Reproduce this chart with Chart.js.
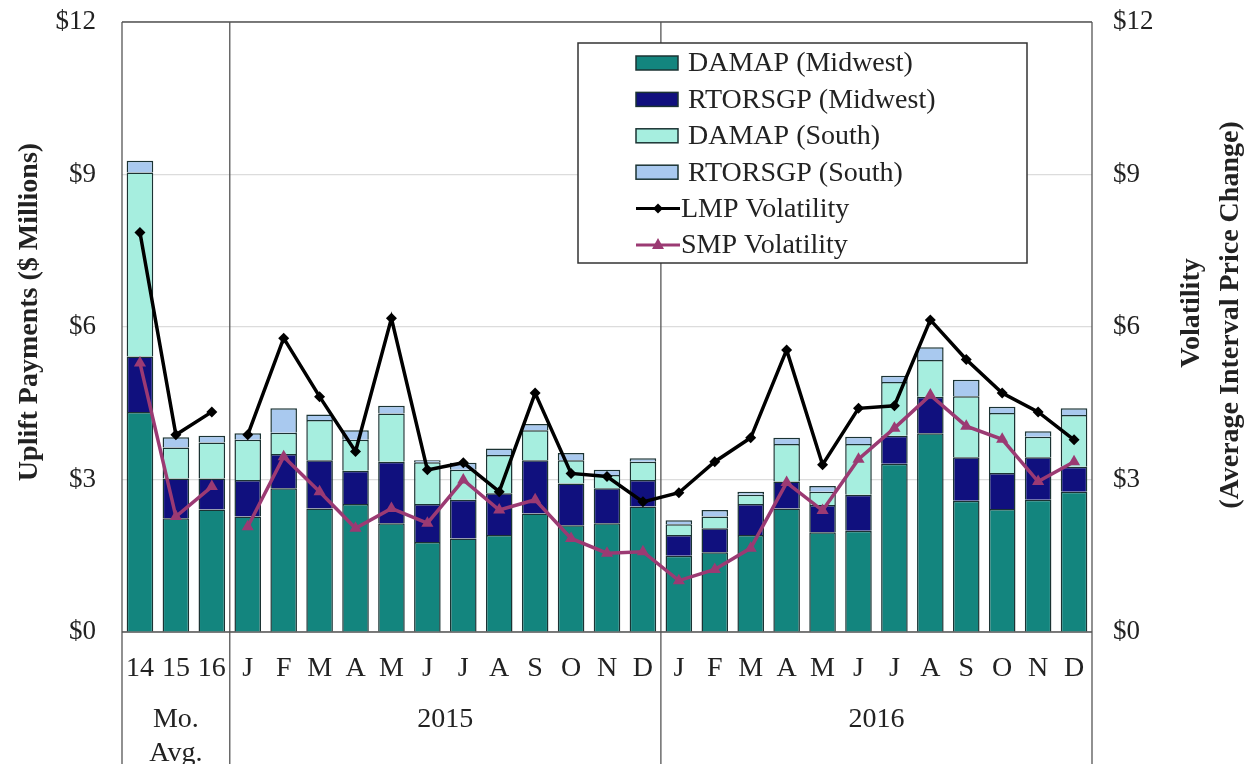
<!DOCTYPE html>
<html>
<head>
<meta charset="utf-8">
<script src="https://cdn.jsdelivr.net/npm/chart.js@4.4.1/dist/chart.umd.min.js"></script>
<style>
  html, body { margin: 0; padding: 0; background: #fff; }
  canvas { display: block; }
</style>
</head>
<body>
<canvas id="myChart" width="1245" height="764"></canvas>
<script>
// categorias: media mensal 2014-16, depois meses de 2015 e 2016
const categories = ['14','15','16','J','F','M','A','M','J','J','A','S','O','N','D','J','F','M','A','M','J','J','A','S','O','N','D']
const damapMidwest = [4.33,2.24,2.41,2.27,2.83,2.43,2.52,2.14,1.77,1.84,1.91,2.33,2.10,2.14,2.47,1.50,1.57,1.91,2.43,1.96,1.99,3.31,3.91,2.58,2.42,2.60,2.76]
const rtorMidwest = [1.09,0.78,0.61,0.72,0.67,0.95,0.65,1.21,0.75,0.76,0.82,1.05,0.82,0.69,0.52,0.41,0.47,0.61,0.53,0.54,0.71,0.55,0.72,0.86,0.71,0.84,0.49]
const damapSouth = [3.62,0.61,0.71,0.79,0.42,0.79,0.61,0.95,0.82,0.59,0.75,0.59,0.46,0.26,0.36,0.21,0.23,0.18,0.74,0.26,1.00,1.06,0.72,1.20,1.18,0.40,1.02]
const rtorSouth = [0.23,0.20,0.13,0.13,0.48,0.11,0.19,0.15,0.04,0.14,0.13,0.12,0.14,0.10,0.07,0.08,0.13,0.06,0.12,0.11,0.14,0.12,0.25,0.32,0.12,0.11,0.13]
const lmpVol = [7.86,3.88,4.33,3.88,5.78,4.63,3.55,6.17,3.19,3.33,2.76,4.70,3.12,3.06,2.56,2.74,3.35,3.82,5.55,3.29,4.40,4.45,6.14,5.36,4.70,4.33,3.78]
const smpVol = [5.29,2.27,2.86,2.07,3.45,2.76,2.04,2.43,2.14,2.99,2.40,2.60,1.84,1.55,1.58,1.01,1.23,1.65,2.94,2.39,3.40,4.01,4.66,4.05,3.79,2.96,3.35]
const yTicks = [0,3,6,9,12]
const grupos = [['Mo.', 'Avg.'], ['2015'], ['2016']]

const serif = '"Liberation Serif", "Times New Roman", serif'
const corBorda = '#1b3333'

// quebra a linha entre a media de 16 e jan/2015
const semLigacao = c => c.p0DataIndex === 2 ? 'rgba(0,0,0,0)' : undefined

const barra = (label, data, cor) => ({
  type: 'bar', label: label, data: data, backgroundColor: cor,
  borderColor: corBorda, borderWidth: 1.5, stack: 'u', order: 2,
  barPercentage: 0.74, categoryPercentage: 1
})

const extras = {
  id: 'extras',
  beforeDatasetsDraw(chart) {
    const c = chart.ctx, a = chart.chartArea
    c.save()
    // separadores verticais ate o fim da imagem
    const x = chart.scales.x
    const meio = i => (x.getPixelForValue(i) + x.getPixelForValue(i + 1)) / 2
    c.strokeStyle = '#555'
    c.lineWidth = 1.3
    ;[a.left, meio(2), meio(14), a.right].forEach(px => {
      c.beginPath(); c.moveTo(px, a.top); c.lineTo(px, chart.height); c.stroke()
    })
    c.beginPath(); c.moveTo(a.left, a.top); c.lineTo(a.right, a.top); c.stroke()
    c.beginPath(); c.moveTo(a.left, a.bottom); c.lineTo(a.right, a.bottom); c.stroke()
    c.restore()
  },
  afterDraw(chart) {
    const c = chart.ctx, a = chart.chartArea
    const x = chart.scales.x
    const meio = i => (x.getPixelForValue(i) + x.getPixelForValue(i + 1)) / 2
    c.save()
    // rotulos de grupo
    c.fillStyle = '#222'
    c.font = '28px ' + serif
    c.textAlign = 'center'
    c.textBaseline = 'middle'
    const centros = [(a.left + meio(2)) / 2, (meio(2) + meio(14)) / 2, (meio(14) + a.right) / 2]
    grupos.forEach((g, i) => g.forEach((t, j) => c.fillText(t, centros[i], 720 + j * 34)))

    // titulos dos eixos
    c.font = 'bold 28px ' + serif
    c.save(); c.translate(30, 312); c.rotate(-Math.PI / 2)
    c.fillText('Uplift Payments ($ Millions)', 0, 0); c.restore()
    c.save(); c.translate(1192, 313); c.rotate(-Math.PI / 2)
    c.fillText('Volatility', 0, 0); c.restore()
    c.save(); c.translate(1231, 315); c.rotate(-Math.PI / 2)
    c.fillText('(Average Interval Price Change)', 0, 0); c.restore()

    // legenda
    c.fillStyle = '#fff'
    c.fillRect(578, 43, 449, 220)
    c.strokeStyle = '#333'
    c.lineWidth = 1.5
    c.strokeRect(578, 43, 449, 220)
    c.font = '28px ' + serif
    c.textAlign = 'left'
    const ds = chart.data.datasets
    const ordem = [2, 3, 4, 5, 0, 1]
    ordem.forEach((k, i) => {
      const d = ds[k], y = 63 + i * 36.4
      c.fillStyle = '#222'
      if (d.type === 'bar') {
        c.fillStyle = d.backgroundColor
        c.fillRect(636, y - 7, 42, 14)
        c.strokeStyle = corBorda; c.lineWidth = 1.5
        c.strokeRect(636, y - 7, 42, 14)
        c.fillStyle = '#222'
        c.fillText(d.label, 688, y + 1)
      } else {
        c.strokeStyle = d.borderColor; c.lineWidth = 3
        c.beginPath(); c.moveTo(636, y); c.lineTo(680, y); c.stroke()
        c.fillStyle = d.borderColor
        c.beginPath()
        if (d.pointStyle === 'rectRot') {
          c.moveTo(658, y - 5); c.lineTo(663, y); c.lineTo(658, y + 5); c.lineTo(653, y)
        } else {
          c.moveTo(658, y - 7); c.lineTo(664, y + 4); c.lineTo(652, y + 4)
        }
        c.closePath(); c.fill()
        c.fillStyle = '#222'
        c.fillText(d.label, 681, y + 1)
      }
    })
    c.restore()
  }
}

const tickFont = { family: serif, size: 27 }
const fixarLargura = w => s => { s.width = w; s.paddingTop = 0; s.paddingBottom = 0 }

new Chart(document.getElementById('myChart'), {
  data: {
    labels: categories,
    datasets: [
      { type: 'line', label: 'LMP Volatility', data: lmpVol, yAxisID: 'y1', order: 0,
        borderColor: '#000', backgroundColor: '#000', borderWidth: 3.5,
        pointStyle: 'rectRot', pointRadius: 5.5, pointBackgroundColor: '#000', pointBorderWidth: 0,
        tension: 0, segment: { borderColor: semLigacao } },
      { type: 'line', label: 'SMP Volatility', data: smpVol, yAxisID: 'y1', order: 1,
        borderColor: '#9b3a73', backgroundColor: '#9b3a73', borderWidth: 3.5,
        pointStyle: 'triangle', pointRadius: 7, pointBackgroundColor: '#9b3a73', pointBorderWidth: 0,
        tension: 0, segment: { borderColor: semLigacao } },
      barra('DAMAP (Midwest)', damapMidwest, '#13857e'),
      barra('RTORSGP (Midwest)', rtorMidwest, '#10107e'),
      barra('DAMAP (South)', damapSouth, '#a6eedf'),
      barra('RTORSGP (South)', rtorSouth, '#a9c9ef')
    ]
  },
  options: {
    responsive: false,
    animation: false,
    devicePixelRatio: 1,
    layout: { padding: { top: 22, left: 0, right: 0, bottom: 0 } },
    plugins: { legend: { display: false }, tooltip: { enabled: false } },
    scales: {
      x: {
        stacked: true,
        grid: { display: false, drawTicks: false },
        border: { display: false },
        ticks: { font: { family: serif, size: 28 }, color: '#222', padding: 20, maxRotation: 0, autoSkip: false },
        afterFit: s => { s.height = 132 }
      },
      y: {
        stacked: true, min: 0, max: 12,
        afterBuildTicks: s => { s.ticks = yTicks.map(v => ({ value: v })) },
        ticks: { font: tickFont, color: '#222', padding: 26, callback: v => '$' + v },
        grid: { color: '#dcdcdc', drawTicks: false, lineWidth: 1.2 },
        border: { display: false },
        afterFit: fixarLargura(122)
      },
      y1: {
        position: 'right', min: 0, max: 12,
        afterBuildTicks: s => { s.ticks = yTicks.map(v => ({ value: v })) },
        ticks: { font: tickFont, color: '#222', padding: 21, callback: v => '$' + v },
        grid: { display: false, drawTicks: false },
        border: { display: false },
        afterFit: fixarLargura(153)
      }
    }
  },
  plugins: [extras]
})
</script>
</body>
</html>
